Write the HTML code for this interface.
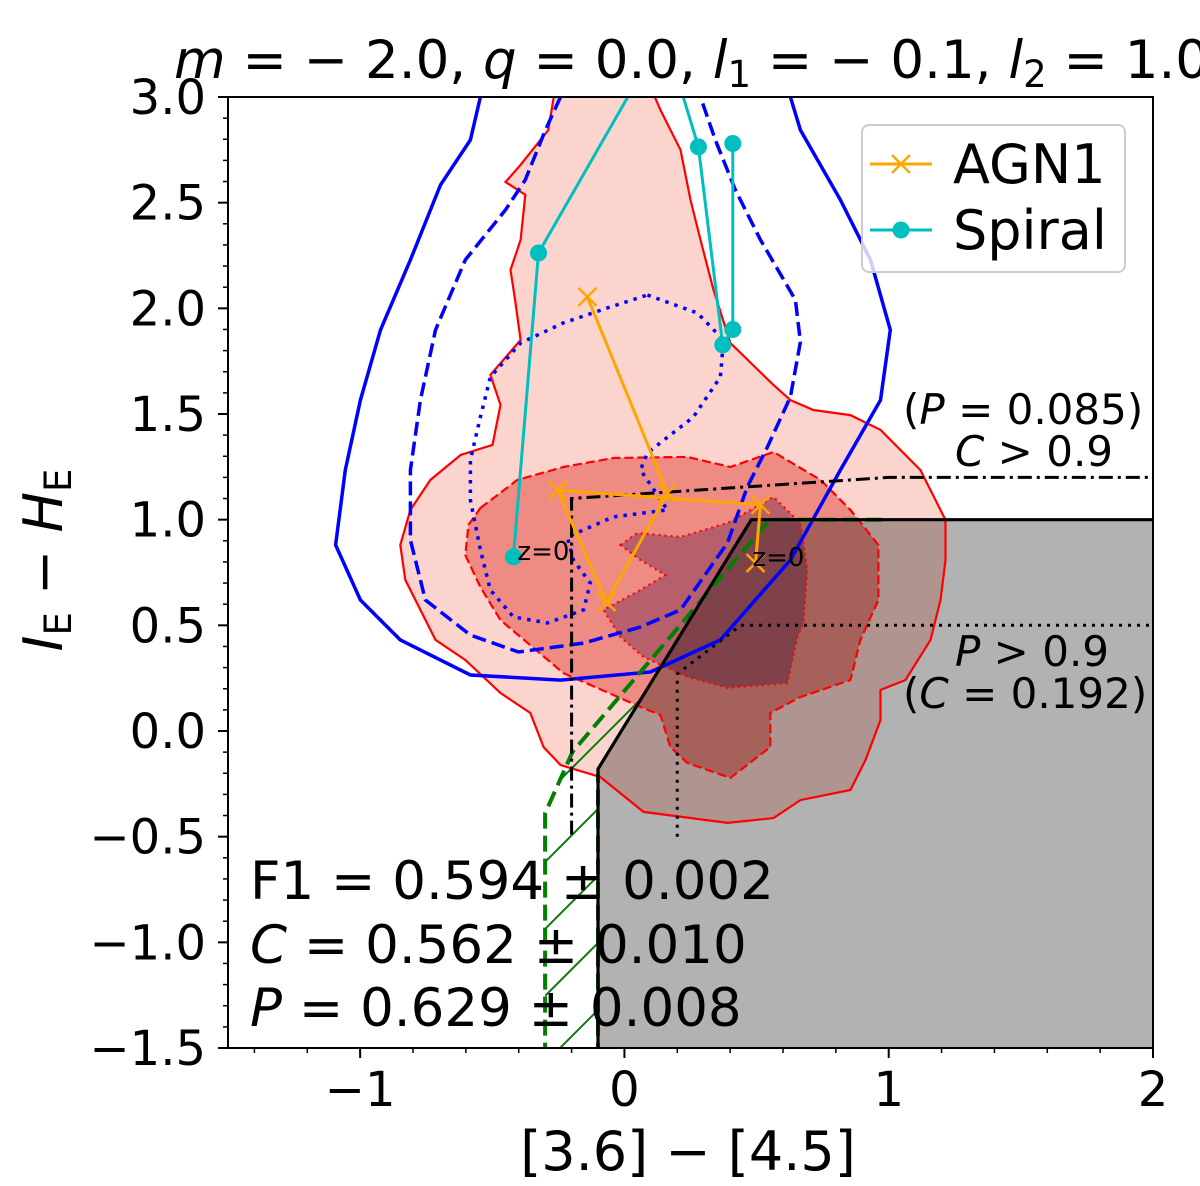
<!DOCTYPE html>
<html><head><meta charset="utf-8">
<style>
html,body{margin:0;padding:0;background:#fff;}
svg{display:block;font-family:"DejaVu Sans","Liberation Sans",sans-serif;}
</style></head>
<body>
<svg id="chart" width="1200" height="1186" viewBox="0 0 1200 1186" xmlns="http://www.w3.org/2000/svg">
<defs>
<clipPath id="plotclip"><rect x="228" y="97" width="925" height="951"/></clipPath>
<pattern id="hatch" patternUnits="userSpaceOnUse" width="67" height="67">
<line x1="0" y1="67" x2="67" y2="0" stroke="#0a7a0a" stroke-width="2"/>
<line x1="-10" y1="10" x2="10" y2="-10" stroke="#0a7a0a" stroke-width="2"/>
<line x1="57" y1="77" x2="77" y2="57" stroke="#0a7a0a" stroke-width="2"/>
</pattern>
</defs>
<g id="plot" clip-path="url(#plotclip)"></g>
<g id="axes"></g>
</svg>
<script>
// ---- data ----
const xTicks = [-1, 0, 1, 2];
const yTicks = [3.0, 2.5, 2.0, 1.5, 1.0, 0.5, 0.0, -0.5, -1.0, -1.5];
const yTickLabels = ["3.0","2.5","2.0","1.5","1.0","0.5","0.0","\u22120.5","\u22121.0","\u22121.5"];
const xTickLabels = ["\u22121","0","1","2"];

const blueSolidX = [-0.545,-0.583,-0.696,-0.81,-0.923,-0.999,-1.056,-1.093,-0.999,-0.848,-0.583,-0.242,0.098,0.363,0.628,0.817,0.969,1.006,0.931,0.817,0.666,0.628];
const blueSolidY = [3.0,2.797,2.584,2.229,1.898,1.566,1.235,0.88,0.62,0.431,0.265,0.241,0.279,0.431,0.809,1.235,1.566,1.898,2.229,2.513,2.844,3.0];

const blueDashX = [-0.242,-0.299,-0.375,-0.45,-0.602,-0.715,-0.772,-0.81,-0.81,-0.753,-0.583,-0.401,-0.155,0.061,0.212,0.39,0.465,0.541,0.628,0.666,0.647,0.515,0.42,0.344,0.288];
const blueDashY = [3.0,2.844,2.608,2.466,2.229,1.898,1.566,1.235,0.904,0.62,0.454,0.374,0.416,0.492,0.573,0.89,1.155,1.344,1.581,1.841,2.04,2.324,2.56,2.797,3.0];

const blueDotX = [0.087,0.276,0.375,0.363,0.261,0.087,0.061,0.163,-0.042,-0.216,-0.193,-0.129,-0.155,-0.291,-0.42,-0.507,-0.545,-0.583,-0.583,-0.545,-0.507,-0.393,-0.231,-0.064];
const blueDotY = [2.063,1.978,1.85,1.675,1.486,1.316,1.235,1.046,1.013,0.918,0.809,0.7,0.573,0.511,0.54,0.667,0.857,1.093,1.283,1.486,1.675,1.836,1.931,2.002];

const redOuterX = [-0.261,-0.288,-0.393,-0.45,-0.375,-0.393,-0.431,-0.412,-0.393,-0.507,-0.469,-0.499,-0.62,-0.734,-0.81,-0.848,-0.829,-0.772,-0.715,-0.602,-0.469,-0.356,-0.306,-0.242,-0.091,0.072,0.39,0.564,0.666,0.855,0.912,0.969,0.969,1.063,1.158,1.196,1.215,1.215,1.12,0.969,0.855,0.715,0.628,0.564,0.401,0.337,0.288,0.25,0.212,0.136,0.098];
const redOuterY = [3.05,2.844,2.679,2.598,2.537,2.324,2.182,2.026,1.85,1.685,1.543,1.354,1.306,1.188,1.046,0.88,0.715,0.573,0.431,0.336,0.18,0.085,-0.076,-0.161,-0.218,-0.383,-0.435,-0.412,-0.327,-0.279,-0.137,0.052,0.194,0.241,0.431,0.62,0.809,0.999,1.235,1.425,1.495,1.519,1.566,1.637,1.836,2.087,2.324,2.513,2.75,2.939,3.05];

const redMidX = [-0.545,-0.405,-0.231,-0.042,0.238,0.401,0.564,0.742,0.855,0.961,0.961,0.893,0.855,0.666,0.552,0.552,0.401,0.238,0.174,0.136,0.061,-0.231,-0.469,-0.545,-0.602,-0.59];
const redMidY = [1.055,1.188,1.249,1.292,1.297,1.249,1.32,1.188,1.046,0.88,0.62,0.431,0.241,0.161,0.085,-0.076,-0.222,-0.151,-0.076,0.076,0.114,0.274,0.525,0.681,0.833,0.975];

const redInX = [-0.015,0.049,0.212,0.39,0.564,0.666,0.692,0.677,0.655,0.617,0.39,0.238,0.072,-0.015,-0.079,0.061,0.155,0.061];
const redInY = [0.88,0.937,0.918,0.984,1.107,0.984,0.762,0.511,0.445,0.227,0.204,0.256,0.35,0.445,0.573,0.667,0.738,0.809];

const agnX = [0.496,0.515,-0.253,-0.068,0.163,-0.14];
const agnY = [0.795,1.07,1.14,0.61,1.126,2.054];
const spiralX = [-0.42,-0.325,0.15,0.28,0.372,0.41,0.41];
const spiralY = [0.824,2.262,3.3,2.764,1.827,1.9,2.78];
const spiralOnChart = [true,true,false,true,true,true,true];

const selX = [-0.1,-0.1,0.48,2.05];
const selY = [-1.55,-0.18,1.0,1.0];
const dashDotX = [-0.2,-0.2,1.0,2.05];
const dashDotY = [-0.49,1.1,1.2,1.2];
const dotCutX = [0.2,0.2,0.44,2.05];
const dotCutY = [-0.5,0.27,0.5,0.5];
const greenX = [-0.3,-0.3,-0.197,0.55,1.0];
const greenY = [-1.55,-0.39,-0.1,1.0,1.0];
const green2X = [-0.1,-0.1];
const green2Y = [-1.55,-0.2];

// ---- axes ----
const X0=228, X1=1153, Y0=1048, Y1=97;
const xmin=-1.5,xmax=2,ymin=-1.5,ymax=3;
const sx=v=>X0+(v-xmin)/(xmax-xmin)*(X1-X0);
const sy=v=>Y0-(v-ymin)/(ymax-ymin)*(Y0-Y1);
const NS="http://www.w3.org/2000/svg";
const plot=document.getElementById('plot');
const axes=document.getElementById('axes');
function mk(tag,attrs,parent){const e=document.createElementNS(NS,tag);for(const k in attrs)e.setAttribute(k,attrs[k]);parent.appendChild(e);return e;}
function pts(xs,ys){return xs.map((x,i)=>sx(x).toFixed(1)+','+sy(ys[i]).toFixed(1)).join(' ');}

let e;
e=mk('polygon',{points:pts(redOuterX,redOuterY),fill:'rgba(235,40,10,0.2)',stroke:'none'},plot);


e=mk('polygon',{points:pts(redMidX,redMidY),fill:'rgba(220,30,20,0.4)',stroke:'none'},plot);


e=mk('polygon',{points:pts(redInX,redInY),fill:'rgba(100,30,70,0.4)',stroke:'none'},plot);



e=mk('polygon',{points:pts(selX,selY)+' '+sx(2.05)+','+sy(-1.55),fill:'rgba(0,0,0,0.3)',stroke:'none'},plot);



const hatchPts=pts(greenX,greenY)+' '+sx(0.48)+','+sy(1.0)+' '+sx(-0.1)+','+sy(-0.18)+' '+sx(-0.1)+','+sy(-1.55);
e=mk('polygon',{points:hatchPts,fill:'url(#hatch)',stroke:'none'},plot);



e=mk('polygon',{points:pts(redOuterX,redOuterY),fill:'none',stroke:'#ff0000','stroke-width':2.2},plot);


e=mk('polygon',{points:pts(redMidX,redMidY),fill:'none',stroke:'#ff0000','stroke-width':2.2,'stroke-dasharray':'9,4'},plot);


e=mk('polygon',{points:pts(redInX,redInY),fill:'none',stroke:'#ff0000','stroke-width':2.2,'stroke-dasharray':'2,4'},plot);



e=mk('polyline',{points:pts(blueSolidX,blueSolidY),fill:'none',stroke:'#0000ff','stroke-width':3.5},plot);


e=mk('polyline',{points:pts(blueDashX,blueDashY),fill:'none',stroke:'#0000ff','stroke-width':3.5,'stroke-dasharray':'14,6'},plot);


e=mk('polygon',{points:pts(blueDotX,blueDotY),fill:'none',stroke:'#0000ff','stroke-width':3.5,'stroke-dasharray':'3.5,6'},plot);



e=mk('polyline',{points:pts(greenX,greenY),fill:'none',stroke:'#007f00','stroke-width':4,'stroke-dasharray':'16,7'},plot);


e=mk('polyline',{points:pts(green2X,green2Y),fill:'none',stroke:'#007f00','stroke-width':4,'stroke-dasharray':'16,7'},plot);


e=mk('polyline',{points:pts(selX,selY),fill:'none',stroke:'#000','stroke-width':3.2},plot);


e=mk('polyline',{points:pts(dashDotX,dashDotY),fill:'none',stroke:'#000','stroke-width':3,'stroke-dasharray':'14,5,3,5'},plot);


e=mk('polyline',{points:pts(dotCutX,dotCutY),fill:'none',stroke:'#000','stroke-width':3,'stroke-dasharray':'3,6'},plot);



e=mk('polyline',{points:pts(agnX,agnY),fill:'none',stroke:'#ffa500','stroke-width':3},plot);


agnX.forEach((x,i)=>{
  const cx=sx(x),cy=sy(agnY[i]),r=9;
  const m=mk('path',{d:`M${cx-r},${cy-r}L${cx+r},${cy+r}M${cx-r},${cy+r}L${cx+r},${cy-r}`,stroke:'#ffa500','stroke-width':2.5,fill:'none'},plot);
  
  
});
e=mk('polyline',{points:pts(spiralX,spiralY),fill:'none',stroke:'#00bfbf','stroke-width':3},plot);


spiralX.forEach((x,i)=>{
  if(!spiralOnChart[i])return;
  const m=mk('circle',{cx:sx(x),cy:sy(spiralY[i]),r:8.5,fill:'#00bfbf'},plot);
  
  
});
e=mk('text',{x:sx(spiralX[0])+4,y:sy(spiralY[0])+3,'font-size':26,fill:'#000'},plot);
e.textContent='z=0';


e=mk('text',{x:sx(agnX[0])-3,y:sy(agnY[0])+3,'font-size':26,fill:'#000'},plot);
e.textContent='z=0';



e=mk('rect',{x:X0,y:Y1,width:X1-X0,height:Y0-Y1,fill:'none',stroke:'#000','stroke-width':2},axes);



for(let v=-1.4;v<=1.95;v+=0.2){const px=sx(v);mk('line',{x1:px,y1:Y0,x2:px,y2:Y0+5,stroke:'#000','stroke-width':1.5},axes);}
for(let v=-1.5;v<=3.001;v+=0.1){const py=sy(v);mk('line',{x1:X0,y1:py,x2:X0-5,y2:py,stroke:'#000','stroke-width':1.5},axes);}
xTicks.forEach((v,i)=>{
  const px=sx(v);
  mk('line',{x1:px,y1:Y0,x2:px,y2:Y0+10,stroke:'#000','stroke-width':2},axes);
  const t=mk('text',{x:px,y:Y0+58,'font-size':48,'text-anchor':'middle'},axes);
  t.textContent=xTickLabels[i];
  
  
});
yTicks.forEach((v,i)=>{
  const py=sy(v);
  mk('line',{x1:X0,y1:py,x2:X0-10,y2:py,stroke:'#000','stroke-width':2},axes);
  const t=mk('text',{x:X0-22,y:py+17,'font-size':48,'text-anchor':'end'},axes);
  t.textContent=yTickLabels[i];
  
  
});
</script>
<script>
(function(){
const s=document.getElementById('chart');
s.insertAdjacentHTML('beforeend',`
<text x="174" y="78" font-size="53"><tspan font-style="italic">m</tspan> = − 2.0, <tspan font-style="italic">q</tspan> = 0.0, <tspan font-style="italic">l</tspan><tspan font-size="37" dy="9">1</tspan><tspan dy="-9"> = − 0.1, </tspan><tspan font-style="italic">l</tspan><tspan font-size="37" dy="9">2</tspan><tspan dy="-9"> = 1.0</tspan></text>
<text x="688" y="1170" font-size="54" text-anchor="middle">[3.6] − [4.5]</text>
<text transform="translate(62,560) rotate(-90)" font-size="54" text-anchor="middle"><tspan font-style="italic">I</tspan><tspan font-size="37" dy="9">E</tspan><tspan dy="-9"> − </tspan><tspan font-style="italic">H</tspan><tspan font-size="37" dy="9">E</tspan></text>
<text x="903" y="424" font-size="42">(<tspan font-style="italic">P</tspan> = 0.085)</text>
<text x="955" y="466" font-size="42"><tspan font-style="italic">C</tspan> &gt; 0.9</text>
<text x="955" y="666" font-size="42"><tspan font-style="italic">P</tspan> &gt; 0.9</text>
<text x="903" y="708" font-size="42">(<tspan font-style="italic">C</tspan> = 0.192)</text>
<text x="250" y="899" font-size="53">F1 = 0.594 ± 0.002</text>
<text x="250" y="963" font-size="53"><tspan font-style="italic">C</tspan> = 0.562 ± 0.010</text>
<text x="250" y="1026" font-size="53"><tspan font-style="italic">P</tspan> = 0.629 ± 0.008</text>
<g>
<rect x="862" y="125" width="263" height="147" rx="7" fill="rgba(255,255,255,0.8)" stroke="#ccc" stroke-width="2"/>
<line x1="870" y1="164" x2="932" y2="164" stroke="#ffa500" stroke-width="3"/>
<path d="M892,155L910,173M892,173L910,155" stroke="#ffa500" stroke-width="2.5"/>
<text x="953" y="183" font-size="54">AGN1</text>
<line x1="870" y1="230" x2="932" y2="230" stroke="#00bfbf" stroke-width="3"/>
<circle cx="901" cy="230" r="8.5" fill="#00bfbf"/>
<text x="953" y="249" font-size="54">Spiral</text>
</g>`);
})();
</script>
</body></html>
